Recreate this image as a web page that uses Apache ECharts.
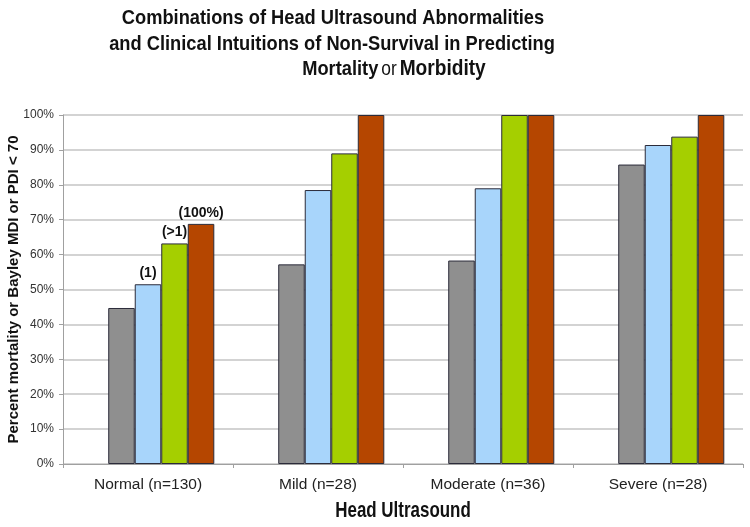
<!DOCTYPE html>
<html>
<head>
<meta charset="utf-8">
<script src="https://cdn.jsdelivr.net/npm/echarts@6/dist/echarts.min.js"></script>
<style>html,body{margin:0;padding:0;background:#fff;}#c{width:750px;height:527px;}</style>
</head>
<body>
<div id="c"></div>
<script>
const categories = ['Normal (n=130)', 'Mild (n=28)', 'Moderate (n=36)', 'Severe (n=28)'];
const seriesGray  = [44.7, 57.2, 58.3, 85.8];
const seriesBlue  = [51.5, 78.5, 79.0, 91.4];
const seriesGreen = [63.2, 89.0, 100, 93.8];
const seriesRed   = [68.8, 100, 100, 100];
const placeholder = [null, null, null, null];
const normalLabels = ['(1)', '(>1)', '(100%)'];
const yTicks = [0, 10, 20, 30, 40, 50, 60, 70, 80, 90, 100];

const chart = echarts.init(document.getElementById('c'));
const sans = '"Liberation Sans", Arial, sans-serif';
const border = {borderColor: '#2b2b3a', borderWidth: 1};

function bar(name, data, color, labelText) {
  return {
    name: name, type: 'bar', data: data.map((v, i) => {
      const o = {value: v};
      if (i === 0 && labelText) {
        o.label = {show: true, position: 'top', distance: 4, formatter: labelText,
          fontFamily: sans, fontWeight: 'bold', fontSize: 14, color: '#111'};
      }
      return o;
    }),
    itemStyle: Object.assign({color: color}, border),
    barGap: '0%', barCategoryGap: '22%'
  };
}

const tFont = 'bold 21px ' + sans;
chart.setOption({
  animation: false,
  backgroundColor: '#fff',
  grid: {left: 63, right: 7, top: 115, bottom: 63, containLabel: false, outerBoundsMode: 'none'},
  graphic: [
    {type: 'text', x: 333, y: 8, scaleX: 0.87, style: {text: 'Combinations of Head Ultrasound Abnormalities', font: tFont, fill: '#111', textAlign: 'center'}},
    {type: 'text', x: 332, y: 34, scaleX: 0.87, style: {text: 'and Clinical Intuitions of Non-Survival in Predicting', font: tFont, fill: '#111', textAlign: 'center'}},
    {type: 'text', x: 394, y: 58, scaleX: 0.87, style: {
      text: '{a|Mortality} {b|or} {c|Morbidity}', textAlign: 'center',
      rich: {
        a: {font: tFont, fill: '#111'},
        b: {font: '20px ' + sans, fill: '#111'},
        c: {font: 'bold 22px ' + sans, fill: '#111'}
      }}},
    {type: 'text', x: 403, y: 500, scaleX: 0.77, style: {text: 'Head Ultrasound', font: 'bold 22px ' + sans, fill: '#111', textAlign: 'center'}}
  ],
  xAxis: {
    type: 'category', data: categories,
    axisLine: {lineStyle: {color: '#a0a0a0', width: 1}},
    axisTick: {show: true, length: 4, lineStyle: {color: '#a0a0a0'}},
    axisLabel: {fontFamily: sans, fontSize: 15.5, color: '#222', margin: 13}
  },
  yAxis: {
    type: 'value', min: 0, max: 100, interval: 10,
    name: 'Percent mortality or Bayley MDI or PDI < 70', nameLocation: 'middle', nameGap: 42,
    nameMoveOverlap: false,
    nameTextStyle: {fontFamily: sans, fontWeight: 'bold', fontSize: 15, color: '#111'},
    axisLine: {show: true, lineStyle: {color: '#a0a0a0', width: 1}},
    axisTick: {show: true, length: 4, lineStyle: {color: '#a0a0a0'}},
    axisLabel: {formatter: v => yTicks.includes(v) ? v + '%' : '', fontFamily: sans, fontSize: 12, color: '#333', margin: 9},
    splitLine: {show: true, lineStyle: {color: '#c4c4c4', width: 1.5}}
  },
  series: [
    bar('', placeholder, 'transparent', null),
    bar('Gray', seriesGray, '#8f8f8f', null),
    bar('Blue', seriesBlue, '#a8d5fb', normalLabels[0]),
    bar('Green', seriesGreen, '#a5cf00', normalLabels[1]),
    bar('Red', seriesRed, '#b54600', normalLabels[2])
  ]
});
</script>
</body>
</html>
